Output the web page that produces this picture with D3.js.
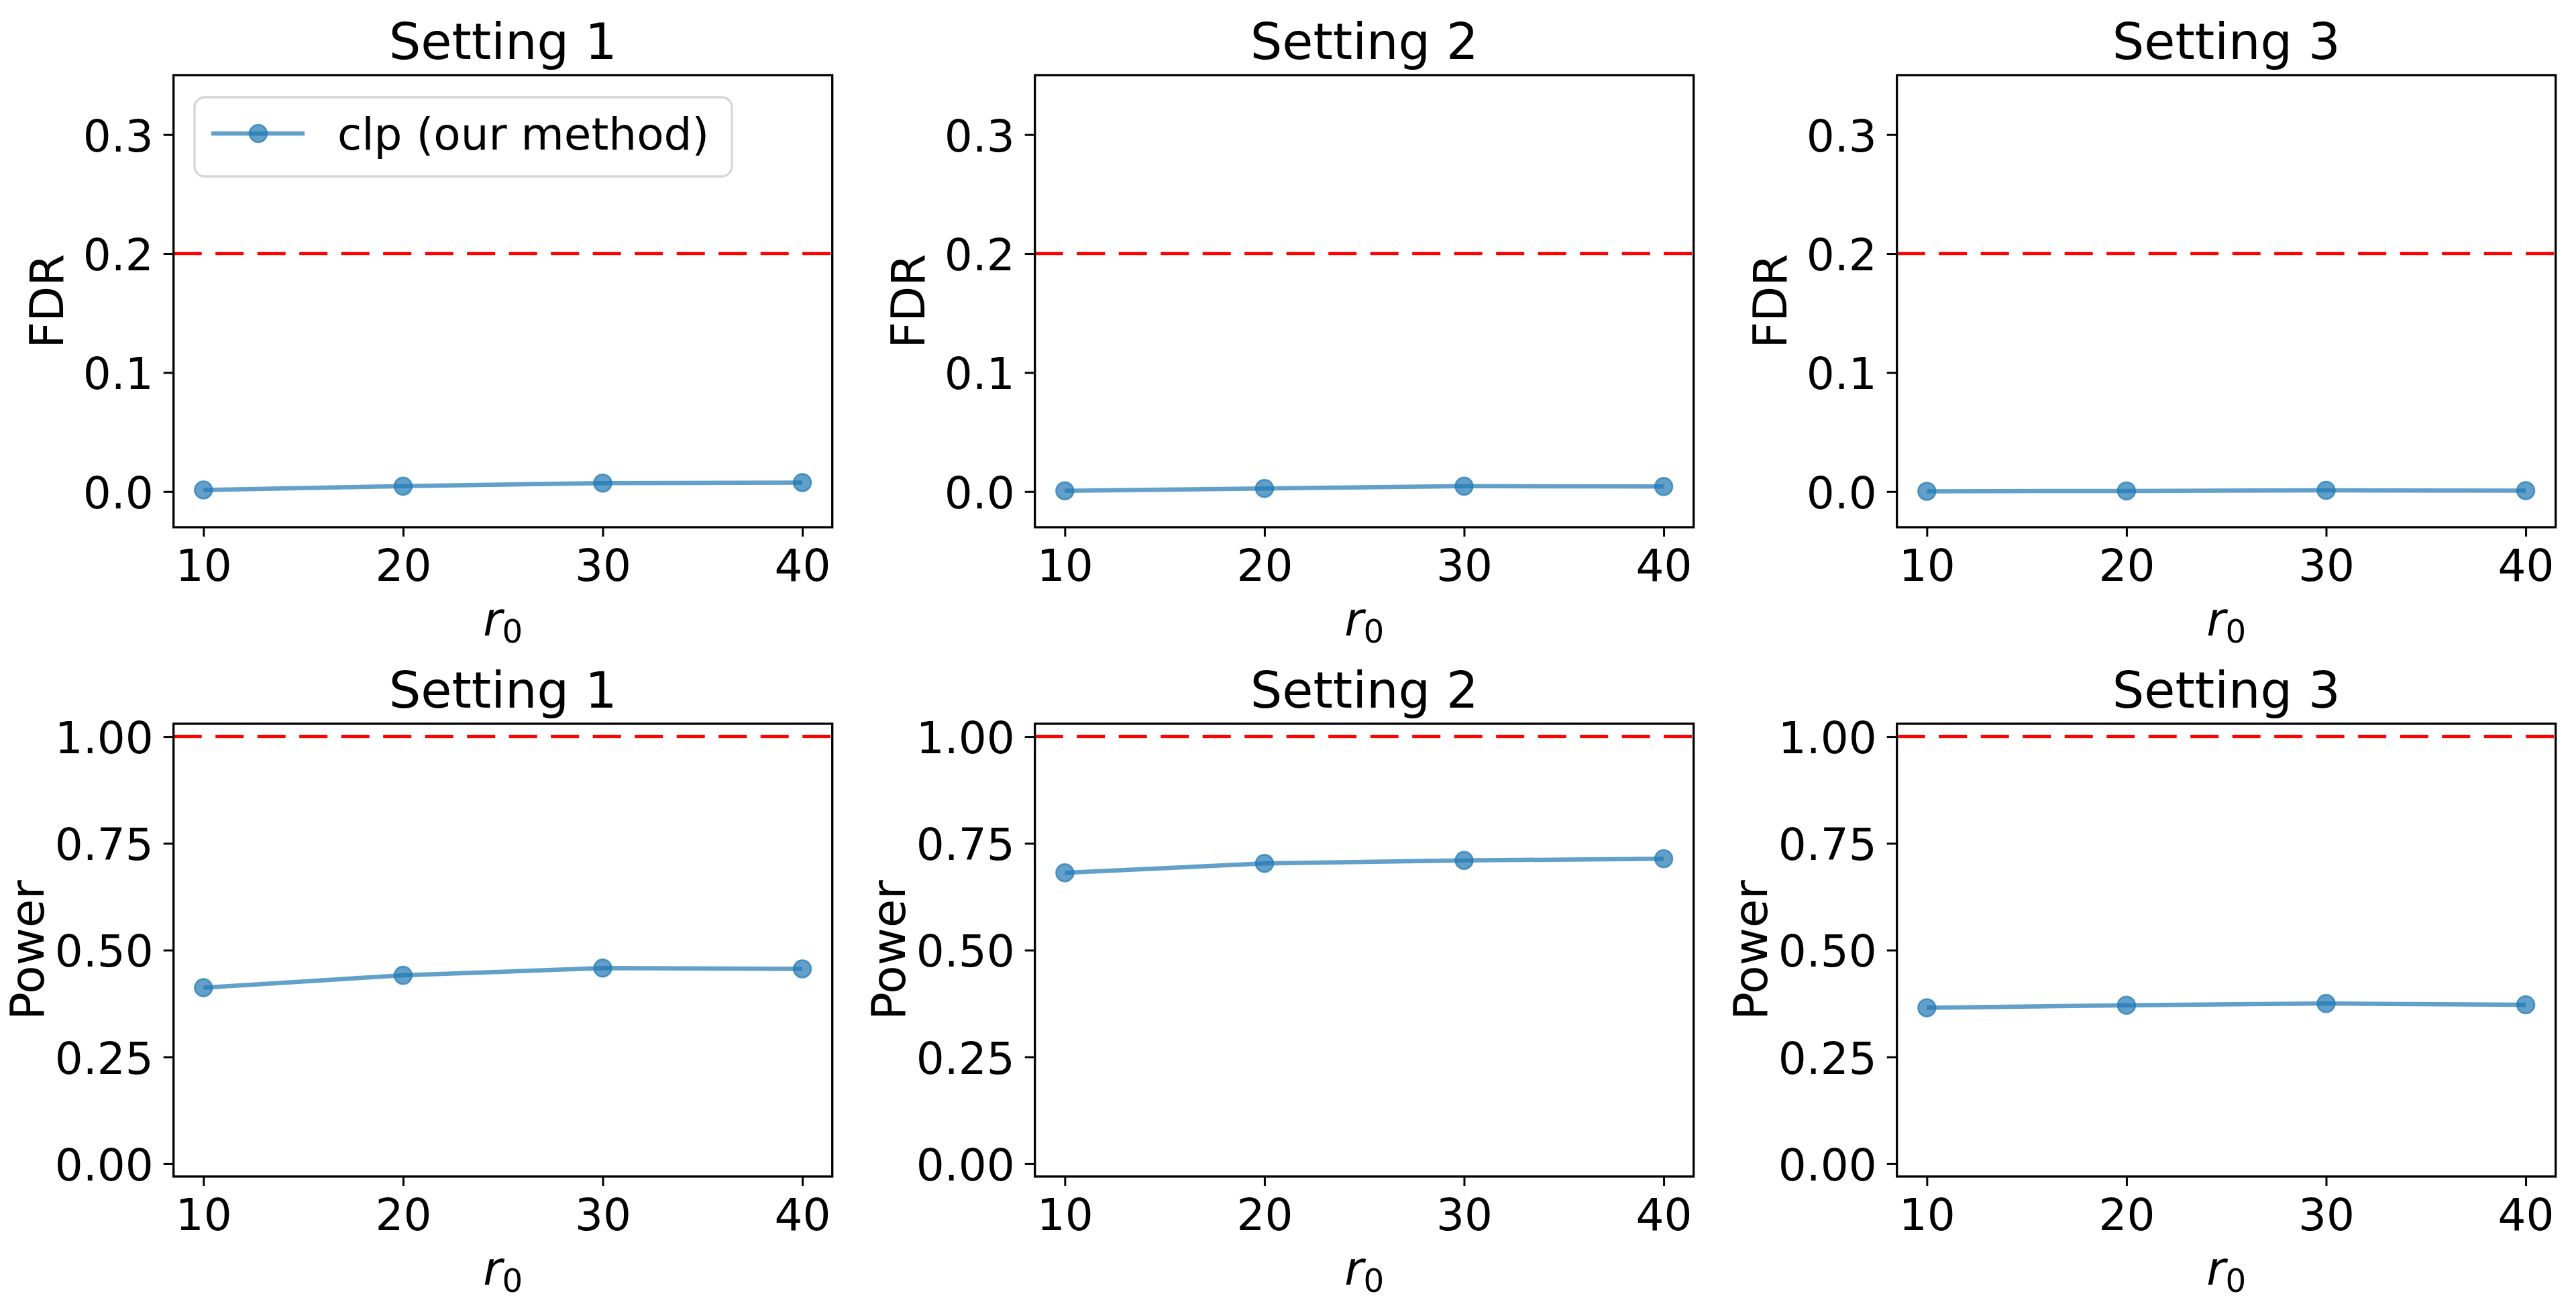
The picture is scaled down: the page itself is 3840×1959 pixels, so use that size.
<!DOCTYPE html>
<html>
<head>
<meta charset="utf-8">
<script src="https://cdn.jsdelivr.net/npm/d3@7"></script>
<style>
  body { margin: 0; background: white; }
  svg text { font-family: "DejaVu Sans", sans-serif; fill: black; }
</style>
</head>
<body>
<div id="container"></div>
<script>
const r0 = [10, 20, 30, 40];
const settings = ["Setting 1", "Setting 2", "Setting 3"];
const fdr = [
  [0.0013, 0.0045, 0.0071, 0.0075],
  [0.0006, 0.0026, 0.0045, 0.0042],
  [0.0002, 0.0005, 0.0010, 0.0007]
];
const power = [
  [0.412, 0.441, 0.458, 0.456],
  [0.681, 0.703, 0.710, 0.714],
  [0.365, 0.371, 0.375, 0.372]
];
const fdrTicks = [0, 0.1, 0.2, 0.3];
const powerTicks = [0, 0.25, 0.5, 0.75, 1];
const fdrTarget = 0.2;
const powerTarget = 1.0;
const legendLabel = "clp (our method)";

const W = 3840, H = 1959;
const colLeft = [258.7, 1542.7, 2827.7];
const panelW = 982;
const rows = [
  { top: 112, bottom: 786, values: fdr, ticks: fdrTicks, domain: [-0.03, 0.35], fmt: d3.format(".1f"), label: "FDR", target: fdrTarget, labelOff: 165 },
  { top: 1079, bottom: 1754, values: power, ticks: powerTicks, domain: [-0.03, 1.03], fmt: d3.format(".2f"), label: "Power", target: powerTarget, labelOff: 194 }
];
const blue = "#1f77b4";
const tickFont = 66, labelFont = 69, titleFont = 75;

const svg = d3.select("#container")
  .append("svg")
  .attr("width", W)
  .attr("height", H);

let drawPanel = (row, col) => {
  let left = colLeft[col];
  let right = left + panelW;
  let x = d3.scaleLinear().domain([8.5, 41.5]).range([left, right]);
  let y = d3.scaleLinear().domain(row.domain).range([row.bottom, row.top]);
  let g = svg.append("g");

  // y axis
  let ya = g.append("g")
    .attr("transform", `translate(${left},0)`)
    .call(d3.axisLeft(y).tickValues(row.ticks).tickFormat(row.fmt).tickSize(15).tickPadding(15));
  ya.select(".domain").remove();
  ya.selectAll(".tick line").attr("stroke", "black").attr("stroke-width", 3);
  ya.selectAll(".tick text").attr("font-size", tickFont).attr("dy", "0.37em");

  // x axis
  let xa = g.append("g")
    .attr("transform", `translate(0,${row.bottom})`)
    .call(d3.axisBottom(x).tickValues(r0).tickFormat(d3.format("d")).tickSize(14).tickPadding(19));
  xa.select(".domain").remove();
  xa.selectAll(".tick line").attr("stroke", "black").attr("stroke-width", 3);
  xa.selectAll(".tick text").attr("font-size", tickFont);

  // target line
  g.append("line")
    .attr("x1", left)
    .attr("x2", right)
    .attr("y1", y(row.target))
    .attr("y2", y(row.target))
    .attr("stroke", "red")
    .attr("stroke-width", 4.5)
    .attr("stroke-dasharray", "42,20.5");

  let pts = r0.map((d, i) => [d, row.values[col][i]]);
  g.append("path")
    .datum(pts)
    .attr("fill", "none")
    .attr("stroke", blue)
    .attr("stroke-opacity", 0.7)
    .attr("stroke-width", 6.5)
    .attr("d", d3.line().x(d => x(d[0])).y(d => y(d[1])));

  g.selectAll("circle")
    .data(pts)
    .enter()
    .append("circle")
    .attr("cx", d => x(d[0]))
    .attr("cy", d => y(d[1]))
    .attr("r", 13)
    .attr("fill", blue)
    .attr("fill-opacity", 0.7)
    .attr("stroke", blue)
    .attr("stroke-opacity", 0.7)
    .attr("stroke-width", 2.5);

  // frame
  g.append("rect")
    .attr("x", left)
    .attr("y", row.top)
    .attr("width", panelW)
    .attr("height", row.bottom - row.top)
    .attr("fill", "none")
    .attr("stroke", "black")
    .attr("stroke-width", 3.3);

  g.append("text")
    .attr("x", (left + right) / 2)
    .attr("y", row.top - 24)
    .attr("text-anchor", "middle")
    .attr("font-size", titleFont)
    .text(settings[col]);

  let xl = g.append("text")
    .attr("x", (left + right) / 2)
    .attr("y", row.bottom + 161)
    .attr("text-anchor", "middle")
    .attr("font-size", labelFont);
  xl.append("tspan").attr("font-style", "italic").text("r");
  xl.append("tspan").attr("font-size", labelFont * 0.7).attr("dy", 11).text("0");

  g.append("text")
    .attr("transform", `translate(${left - row.labelOff},${(row.top + row.bottom) / 2}) rotate(-90)`)
    .attr("text-anchor", "middle")
    .attr("font-size", labelFont)
    .text(row.label);
}

rows.forEach(row => settings.forEach((s, col) => drawPanel(row, col)));

// legend in the first panel
let legend = svg.append("g");
legend.append("rect")
  .attr("x", 290)
  .attr("y", 145)
  .attr("width", 801)
  .attr("height", 118)
  .attr("rx", 15)
  .attr("fill", "white")
  .attr("stroke", "#d6d6d6")
  .attr("stroke-width", 3.3);
legend.append("line")
  .attr("x1", 315)
  .attr("x2", 454)
  .attr("y1", 199)
  .attr("y2", 199)
  .attr("stroke", blue)
  .attr("stroke-opacity", 0.7)
  .attr("stroke-width", 6.5);
legend.append("circle")
  .attr("cx", 385)
  .attr("cy", 199)
  .attr("r", 13)
  .attr("fill", blue)
  .attr("fill-opacity", 0.7)
  .attr("stroke", blue)
  .attr("stroke-opacity", 0.7)
  .attr("stroke-width", 2.5);
legend.append("text")
  .attr("x", 503)
  .attr("y", 222.5)
  .attr("font-size", tickFont)
  .text(legendLabel);
</script>
</body>
</html>
